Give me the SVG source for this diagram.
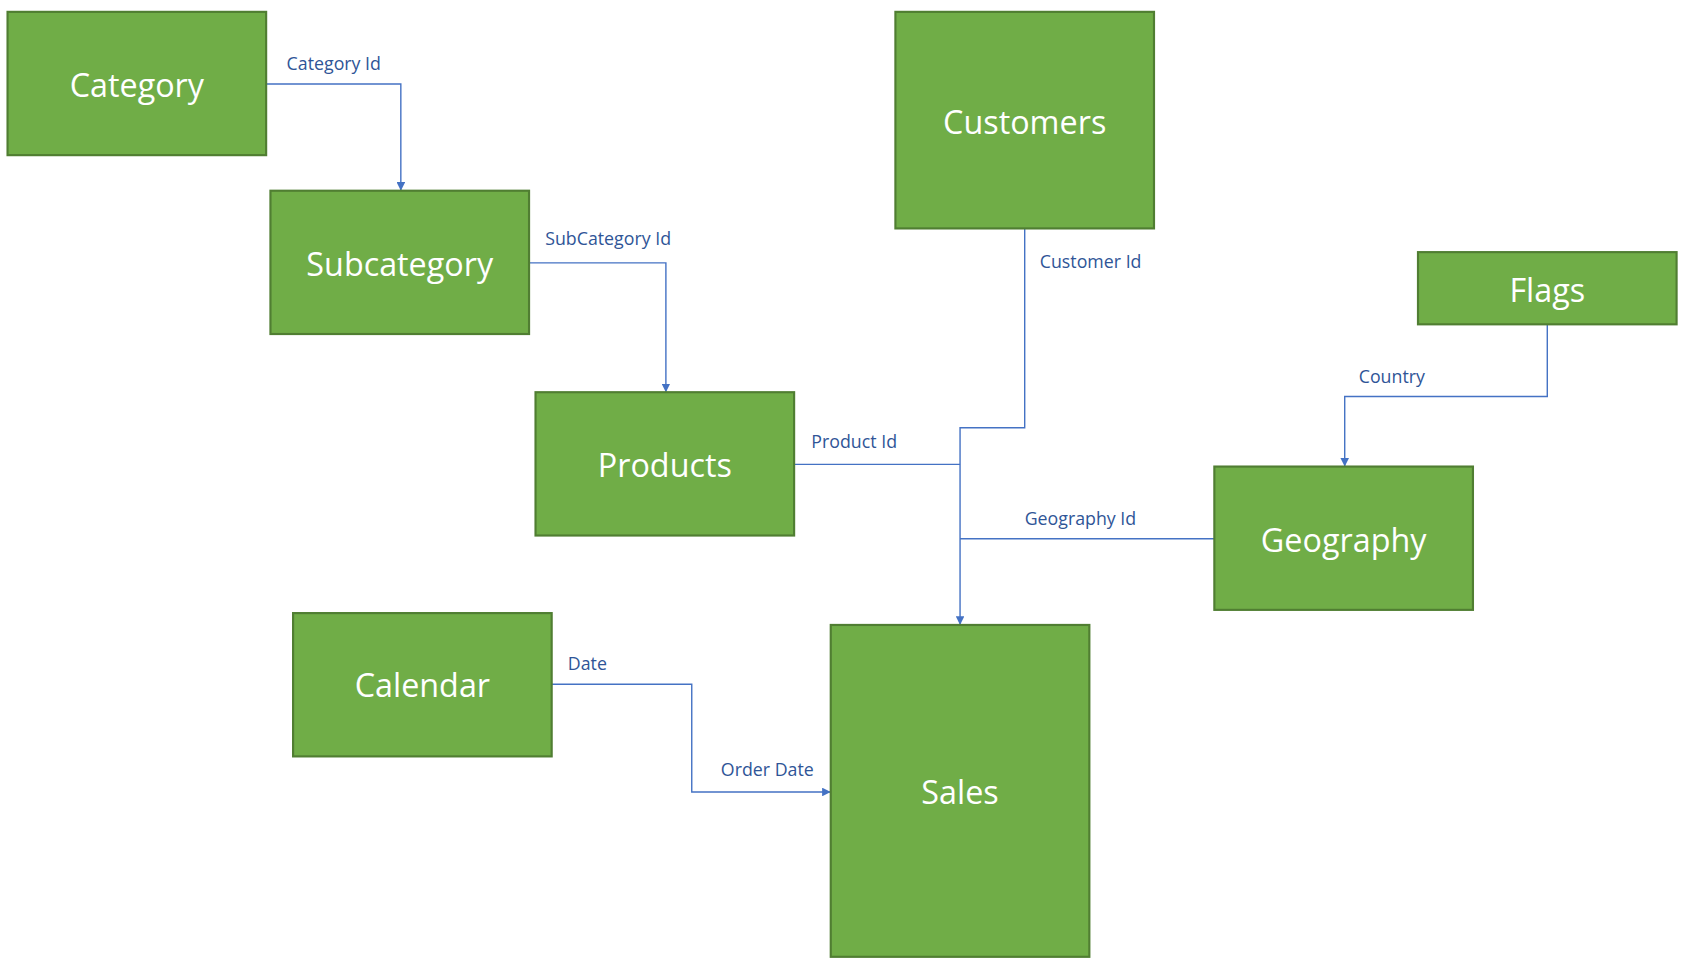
<svg xmlns="http://www.w3.org/2000/svg" width="1689" height="966" viewBox="0 0 1689 966">
<style>
.n{fill:#70AD47;stroke:#507E32;stroke-width:2}
.t{fill:#fff;font-family:"Open Sans","Liberation Sans",sans-serif;font-size:30px;text-anchor:middle;dominant-baseline:central}
.c{fill:none;stroke:#4472C4;stroke-width:1.3}
.l{fill:#2F5597;font-family:"Open Sans","Liberation Sans",sans-serif;font-size:16.5px}
</style>
<defs><marker id="a" viewBox="0 0 10 10" refX="10" refY="5" markerWidth="8" markerHeight="8" markerUnits="userSpaceOnUse" orient="auto"><path d="M0,0L10,5L0,10z" fill="#4472C4"/></marker></defs>
<rect width="1689" height="966" fill="#fff"/>
<g transform="scale(1.0775)">
<g id="connectors">
<path class="c" d="M247,78H372V177" marker-end="url(#a)"/>
<path class="c" d="M491,244H618V364" marker-end="url(#a)"/>
<path class="c" d="M951,212V397H891V580" marker-end="url(#a)"/>
<path class="c" d="M737,431H891"/>
<path class="c" d="M1127,500H891"/>
<path class="c" d="M1436,301V368H1248V433" marker-end="url(#a)"/>
<path class="c" d="M512,635H642V735H771" marker-end="url(#a)"/>
<text class="l" x="266" y="65">Category Id</text>
<text class="l" x="506" y="227">SubCategory Id</text>
<text class="l" x="965" y="249">Customer Id</text>
<text class="l" x="753" y="416">Product Id</text>
<text class="l" x="951" y="487">Geography Id</text>
<text class="l" x="1261" y="355">Country</text>
<text class="l" x="527" y="622">Date</text>
<text class="l" x="669" y="720">Order Date</text>
</g>
<g id="category"><rect class="n" x="7" y="11" width="240" height="133"/><text class="t" x="127" y="78">Category</text></g>
<g id="subcategory"><rect class="n" x="251" y="177" width="240" height="133"/><text class="t" x="371" y="244">Subcategory</text></g>
<g id="products"><rect class="n" x="497" y="364" width="240" height="133"/><text class="t" x="617" y="431">Products</text></g>
<g id="customers"><rect class="n" x="831" y="11" width="240" height="201"/><text class="t" x="951" y="112">Customers</text></g>
<g id="flags"><rect class="n" x="1316" y="234" width="240" height="67"/><text class="t" x="1436" y="268">Flags</text></g>
<g id="geography"><rect class="n" x="1127" y="433" width="240" height="133"/><text class="t" x="1247" y="500">Geography</text></g>
<g id="calendar"><rect class="n" x="272" y="569" width="240" height="133"/><text class="t" x="392" y="635">Calendar</text></g>
<g id="sales"><rect class="n" x="771" y="580" width="240" height="308"/><text class="t" x="891" y="734">Sales</text></g>
</g>
</svg>
